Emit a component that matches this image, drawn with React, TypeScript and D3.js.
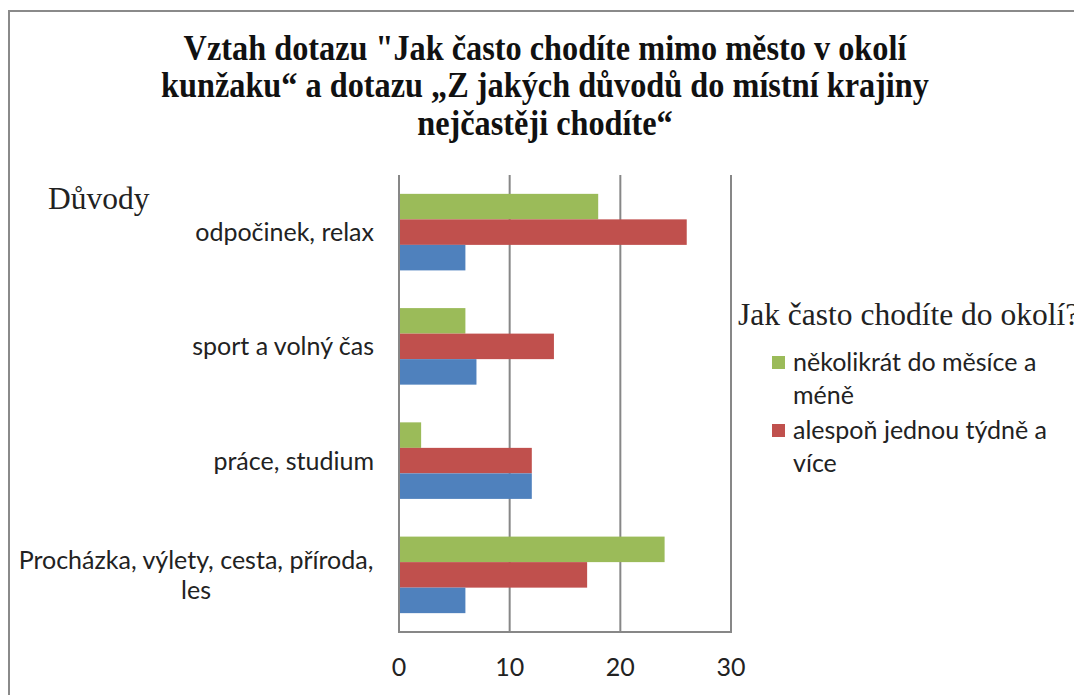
import React from "react";
import * as d3 from "d3";

const titleLines = [
  "Vztah dotazu \"Jak často chodíte mimo město v okolí",
  "kunžaku“ a dotazu „Z jakých důvodů do místní krajiny",
  "nejčastěji chodíte“",
];
const categories = [
  ["odpočinek, relax"],
  ["sport a volný čas"],
  ["práce, studium"],
  ["Procházka, výlety, cesta, příroda,", "les"],
];
const seriesNames = ["několikrát do měsíce a méně", "alespoň jednou týdně a více", "third"];
const greenValues = [18, 6, 2, 24];
const redValues = [26, 14, 12, 17];
const blueValues = [6, 7, 12, 6];
const xTicks = [0, 10, 20, 30];
const legendLines = [
  ["několikrát do měsíce a", "méně"],
  ["alespoň jednou týdně a", "více"],
];
const colors = ["#9BBB59", "#C0504D", "#4F81BD"];

export default function App() {
  const W = 1074, H = 695;
  const left = 399, right = 731, top = 175, bottom = 632;
  const x = d3.scaleLinear().domain([0, 30]).range([left, right]);
  const keys = categories.map((c) => c.join(" "));
  const y0 = d3.scaleBand<string>().domain(keys).range([top, bottom]).paddingInner(0.33).paddingOuter(0.165);
  const y1 = d3.scaleBand<string>().domain(seriesNames).range([0, y0.bandwidth()]);
  const values = [greenValues, redValues, blueValues];
  const sans = "Lato, 'Open Sans', sans-serif";
  const serif = "'Liberation Serif', 'DejaVu Serif', serif";
  const gridColor = "#878787";
  const fs = 25;
  return (
    <svg width={W} height={H} style={{ position: "absolute", left: 0, top: 0, background: "#fff" }}>
      <rect x={0} y={0} width={W} height={H} fill="#fff" />
      <rect x={9} y={11} width={1200} height={800} fill="none" stroke="#8a8a8a" strokeWidth={2} />
      {titleLines.map((t, i) => (
        <text key={i} x={545} y={60 + i * 37.5} textAnchor="middle" fontFamily={serif} fontWeight="bold" fontSize={36}
          fill="#111" transform={`translate(545,0) scale(0.897,1) translate(-545,0)`}>
          {t}
        </text>
      ))}
      <text x={48} y={209} fontFamily={serif} fontSize={31.5} fill="#222">Důvody</text>
      {xTicks.slice(1).map((t) => (
        <line key={t} x1={x(t)} x2={x(t)} y1={top} y2={bottom} stroke={gridColor} strokeWidth={2} />
      ))}
      {values.map((vals, si) =>
        vals.map((v, ci) => (
          <rect key={si + "-" + ci} x={x(0)} y={(y0(keys[ci]) as number) + (y1(seriesNames[si]) as number)}
            width={x(v) - x(0)} height={y1.bandwidth()} fill={colors[si]} />
        ))
      )}
      <line x1={left} x2={left} y1={top} y2={bottom + 1} stroke={gridColor} strokeWidth={2} />
      <line x1={left} x2={right + 1} y1={bottom} y2={bottom} stroke={gridColor} strokeWidth={2} />
      {xTicks.map((t) => (
        <text key={t} x={x(t)} y={676} textAnchor="middle" fontFamily={sans} fontSize={fs} fill="#222">{t}</text>
      ))}
      {categories.map((lines, ci) => {
        const cy = (y0(keys[ci]) as number) + y0.bandwidth() / 2;
        const lh = 30;
        const startY = cy - ((lines.length - 1) * lh) / 2 + 9;
        const anchorX = lines.length > 1 ? 196 : 374;
        return lines.map((l, li) => (
          <text key={ci + "-" + li} x={anchorX} y={startY + li * lh} textAnchor={lines.length > 1 ? "middle" : "end"}
            fontFamily={sans} fontSize={fs} fill="#222">{l}</text>
        ));
      })}
      <text x={738} y={325} fontFamily={serif} fontSize={31.5} fill="#222">Jak často chodíte do okolí?</text>
      {legendLines.map((lines, i) => (
        <g key={i}>
          <rect x={772} y={356 + i * 68} width={13} height={13} fill={colors[i]} />
          {lines.map((l, li) => (
            <text key={li} x={793} y={371 + i * 68 + li * 33} fontFamily={sans} fontSize={fs} fill="#222">{l}</text>
          ))}
        </g>
      ))}
    </svg>
  );
}
